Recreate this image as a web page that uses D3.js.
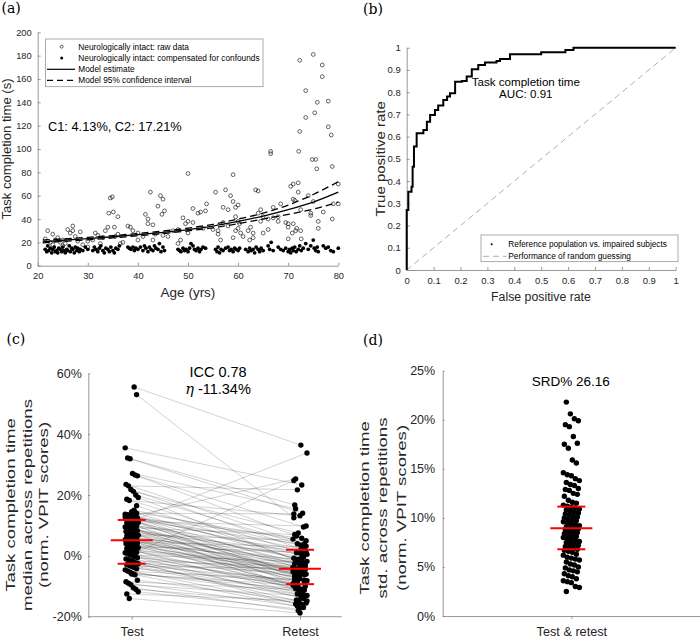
<!DOCTYPE html>
<html><head><meta charset="utf-8">
<script src="https://cdn.jsdelivr.net/npm/d3@7"></script>
<style>
html,body{margin:0;padding:0;background:#fff;}
text{font-family:"Liberation Sans",Arial,sans-serif;}
</style></head>
<body><svg id="c" width="700" height="638"></svg>
<script>
// ---------- Panel (a) data ----------
const ageTicks=[20,30,40,50,60,70,80];
const timeTicks=[0,20,40,60,80,100,120,140,160,180,200];
const rawData=[[21.5,23],[22,30],[22.5,20],[23,27],[23.5,22],[24,24],[24.5,20],[25,22],[25.5,19],[26,31],[26.5,28],[27,34],[27,30],[27.5,25],[28,21],[28.5,29],[29,18],[30,21],[30,16],[25,17],[23,18],
[31,22],[31.5,28],[32,26],[33,24],[33.5,30],[34,33],[34.2,45],[34.5,58],[34.9,59],[35.1,46],[35.3,33],[35.5,25],[36,42],[36,27],[37,20],[38,34],[38.5,33],[39,30],[40,28],[40,22],[32.5,19],[36.5,19],
[41,25],[41.5,44],[42,40],[42,36],[42.5,63],[43,35],[43,22],[44,51],[44.5,60],[44.8,44],[45,57],[45.3,47],[45,26],[46,25],[47,30],[48,31],[48.5,22],[49,41],[49.5,36],[50,38],[50,79],[50,28],[43.5,27],[48,19],
[51,49],[51,37],[52,45],[52.5,46],[53,32],[53.5,47],[53.7,53],[55.5,63],[56,30],[56.5,22],[57,50],[57.5,65],[58,48],[58.5,60],[59,78],[59,55],[59.5,42],[59.5,50],[60,52],[60,38],[60,32],[60.5,28],[61,25],[59.5,30],[58,34],[56,27],[57,37],[59,24],[60.3,36],[55,31],
[62,30],[62.3,22],[63,28],[63.5,65],[64,64],[64,45],[64.5,48],[64.5,38],[65,42],[65,28],[66.5,96],[66.5,98],[66,40],[67,50],[67,41],[68,42],[68,38],[68.5,53],[69.5,37],[70,23],[70,33],[70,36],[63,24],[62.5,33],[66,31],
[70.5,68],[71,70],[71,57],[71.3,56],[71.5,30],[71.7,32],[72,71],[72,63],[72.1,98],[72.3,115],[72.3,176],[72.5,48],[72.6,23],[73.5,150],[73.5,127],[74.5,45],[74.5,43],[74.8,91],[75,181],[75,55],[75.3,131],[75.5,91],[75.7,83],[75.8,140],[76,38],[76,32],[76.8,162],[76.8,172],[78,141],[78,119],[78.6,112],[78.8,85],[78.8,40],[79,53],[80,70],[80,53],[77,46],[74,60],[71,36],[72.5,30],[70.8,28]];
const compData=[[21.5,14],[21.8,12],[22,17],[22.2,13],[22.5,15],[22.8,11],[23,14],[23.3,16],[23.5,12],[23.8,13],[24,11],[24.2,15],[24.5,14],[24.8,12],[25,16],[25.2,13],[25.5,11],[25.8,14],[26,13],[26.3,17],[26.5,12],[26.8,15],[27,14],[27.3,11],[27.5,16],[27.8,13],[28,15],[28.3,12],[28.5,14],[29,13],[29.5,16],[30,14],
[31,13],[31.3,16],[31.6,14],[32,12],[32.3,15],[32.6,17],[33,13],[33.3,11],[33.6,15],[34,14],[34.3,12],[34.6,16],[35,13],[35.3,11],[35.6,15],[36,14],[36.3,17],[38,16],[38.3,15],[38.6,14],[39,16],[39.3,13],[39.6,15],[40,14],
[40.5,16],[41,13],[41.3,17],[41.6,15],[42,12],[42.3,16],[42.6,14],[43,13],[43.3,17],[43.6,15],[44,14],[44.3,19],[44.6,12],[45,16],[45.3,13],[48,14],[48.3,13],[48.6,12],[49,15],[49.3,13],[49.6,14],[50,12],[50.3,15],
[50.6,19],[51,17],[51.3,14],[51.6,13],[52,15],[52.3,12],[52.6,14],[53,16],[53.5,15],[55.5,14],[55.8,12],[56,16],[56.3,11],[56.6,14],[57,13],[57.5,15],[58,16],[58.3,13],[58.6,14],[59,12],[59.3,15],[59.6,14],[60,13],[60.3,15],
[61.5,14],[62,12],[62.3,15],[62.6,13],[63,14],[63.3,11],[63.6,16],[64,14],[64.3,12],[64.6,15],[65,13],[66,17],[66.3,14],[66.6,20],[67,13],[68,16],[68.5,14],[69,13],[69.5,15],
[70,12],[70.3,14],[70.5,11],[70.8,15],[71,13],[71.3,16],[71.6,12],[72,14],[72.3,17],[72.6,13],[73,15],[73.5,19],[74,14],[74.5,17],[75,22],[75.2,15],[75.5,13],[75.8,16],[76,12],[77,17],[77.5,15],[78,16],[78.5,13],[79,12],[80,15]];
const modelAge=[21,25,30,35,40,45,50,55,60,65,70,75,80];
const modelEst=[20.5,21.8,23.2,24.8,26.6,28.6,31,34,38,42.5,48,54.5,63];
const modelUpper=[22,23,24.3,25.8,27.6,29.7,32.2,35.5,40,45,52,61,72];
const modelLower=[19.5,20.8,22.2,23.8,25.6,27.5,29.8,32.5,36,40,44,48.5,54.5];
const legendA=["Neurologically intact: raw data","Neurologically intact: compensated for confounds","Model estimate","Model 95% confidence interval"];

// ---------- Panel (b) data ----------
const rateTicks=[0,0.1,0.2,0.3,0.4,0.5,0.6,0.7,0.8,0.9,1];
const rocFpr=[0,0,0.006,0.018,0.022,0.027,0.037,0.062,0.075,0.087,0.105,0.117,0.136,0.15,0.161,0.18,0.205,0.223,0.242,0.266,0.291,0.334,0.347,0.384,0.49,0.50,0.58,0.59,0.62,1.0];
const rocTpr=[0,0.27,0.352,0.375,0.465,0.555,0.615,0.63,0.667,0.697,0.72,0.74,0.765,0.78,0.795,0.847,0.85,0.87,0.903,0.922,0.933,0.94,0.949,0.97,0.97,0.98,0.98,0.99,1.0,1.0];
const legendB=["Reference population vs. impaired subjects","Performance of random guessing"];

// ---------- Panel (c) data ----------
const sessions=["Test","Retest"];
const pctTicksC=[-20,0,20,40,60];
const testVals=[55.5,53.0,35.5,32.2,31.9,27.1,26.6,26.3,23.5,23.0,21.8,21.2,20.0,19.2,18.6,18.2,14.5,14.2,14.0,13.7,13.5,13.2,13.0,12.7,12.5,12.2,12.0,11.8,11.5,11.3,11.0,10.8,10.5,10.2,10.0,9.8,9.5,9.3,9.0,8.8,8.5,8.3,8.0,7.8,7.5,7.2,7.0,6.8,6.5,6.3,6.0,5.8,5.5,5.3,5.1,5.0,4.8,4.5,4.2,4.0,3.8,3.5,3.2,3.0,2.7,2.4,2.1,1.8,1.5,1.2,1.0,0.7,0.4,0.0,-0.3,-0.6,-1.0,-1.3,-1.6,-2.0,-2.3,-2.6,-2.9,-3.2,-3.5,-3.8,-4.2,-4.6,-5.0,-5.4,-5.8,-6.2,-8.0,-8.5,-9.0,-9.5,-10.5,-11.0,-11.8,-12.5,-14.0,-6.0,15.0,16.5,12.8,9.6,2.0,-1.8];
const retestVals=[36.4,12.5,23.3,16.7,14.0,15.5,9.5,6.5,4.0,21.7,1.8,7.5,3.2,-2.0,0.5,13.2,5.5,-1.5,13.8,2.3,-6.0,0.0,25.3,-3.5,1.0,-8.0,4.0,-4.5,-2.2,9.8,-7.0,33.8,-1.0,-5.2,2.0,-9.0,-3.0,7.0,-4.0,-10.5,-0.5,-6.5,1.5,-8.5,-2.8,-4.8,5.0,-11.5,-1.8,-7.5,-3.8,0.8,-9.8,-5.5,-2.5,-12.0,-4.2,3.0,-8.0,-6.2,-1.2,-10.0,-4.4,1.2,-7.2,-13.0,-3.2,-9.2,-5.8,24.8,-11.0,-6.8,-2.0,-9.5,-14.0,-5.0,-8.8,-12.5,-3.5,-10.2,-6.0,-15.0,-8.2,-11.8,-4.0,-13.5,-9.0,-16.0,-7.8,-12.8,-10.8,-17.0,-14.5,-11.2,-16.5,-13.2,-18.0,-15.5,-17.5,-14.8,-18.8,-9.6,3.5,-0.8,5.8,-7.6,-4.6,-15.8];
const statsC={Test:[-2.6,5.1,11.8],Retest:[-9.3,-4.2,2.0]}; // q1, median, q3
const annotC=["ICC 0.78","\u03B7"," -11.34%"];

// ---------- Panel (d) data ----------
const pooled=["Test & retest"];
const pctTicksD=[0,5,10,15,20,25];
const stdVals=[21.8,20.6,20.1,19.9,19.5,19.3,18.3,17.6,17.5,17.1,15.9,15.6,14.6,14.4,14.3,14.0,13.8,13.6,13.4,13.3,13.0,12.9,12.8,12.5,12.4,12.2,11.8,11.6,11.5,11.3,11.2,11.1,11.0,10.9,10.8,10.7,10.6,10.5,10.4,10.3,10.2,10.1,10.0,9.9,9.8,9.7,9.6,9.5,9.4,9.3,9.2,9.1,9.0,8.9,8.9,8.8,8.7,8.6,8.5,8.4,8.3,8.2,8.1,8.0,7.9,7.8,7.7,7.6,7.5,7.4,7.3,7.2,7.1,7.0,6.9,6.8,6.7,6.6,6.5,6.3,6.2,6.0,5.9,5.8,5.7,5.5,5.3,5.2,5.0,4.9,4.7,4.6,4.5,4.3,4.1,4.0,3.8,3.6,3.5,3.4,3.0,2.9,2.5];
const statsD=[6.8,8.95,11.15];
const annotD="SRD% 26.16";

// ---------- drawing ----------
const svg=d3.select("#c");
const AX="#808080", TXT="#262626";
function style(g,fs){
  g.select(".domain").attr("stroke",AX).attr("stroke-width",0.8);
  g.selectAll(".tick line").attr("stroke",AX).attr("stroke-width",0.8);
  g.selectAll(".tick text").attr("fill",TXT).style("font-size",fs+"px").style("font-family","Liberation Sans, Arial, sans-serif");
}
function panelLabel(t,x,y){svg.append("text").attr("x",x).attr("y",y).text(t).style("font-family","DejaVu Serif, serif").style("font-size","14px").attr("fill","#000");}
function jit(i,amp){return (((i*37+11)%17)/16-0.5)*2*amp;}

// ===== Panel (a)
{
const x=d3.scaleLinear().domain([20,80]).range([37.7,338.3]);
const y=d3.scaleLinear().domain([0,200]).range([265.7,32.3]);
const g=svg.append("g");
g.append("g").attr("transform","translate(0,265.7)").call(d3.axisBottom(x).tickValues(ageTicks).tickSizeInner(-3).tickSizeOuter(0).tickPadding(7)).call(a=>style(a,9.3));
g.append("g").attr("transform","translate(37.7,0)").call(d3.axisLeft(y).tickValues(timeTicks).tickSizeInner(-3).tickSizeOuter(0).tickPadding(6)).call(a=>style(a,9.3));
g.selectAll("circle.raw").data(rawData).join("circle").attr("cx",d=>x(d[0])).attr("cy",d=>y(d[1])).attr("r",1.9).attr("fill","none").attr("stroke","#000").attr("stroke-width",0.6);
g.selectAll("circle.comp").data(compData).join("circle").attr("cx",d=>x(d[0])).attr("cy",d=>y(d[1])).attr("r",1.9).attr("fill","#000");
const line=arr=>d3.line().x((d,i)=>x(modelAge[i])).y(d=>y(d)).curve(d3.curveMonotoneX)(arr);
g.append("path").attr("d",line(modelEst)).attr("fill","none").attr("stroke","#000").attr("stroke-width",1.3);
[modelUpper,modelLower].forEach(a=>g.append("path").attr("d",line(a)).attr("fill","none").attr("stroke","#000").attr("stroke-width",1.3).attr("stroke-dasharray","7,4"));
// legend
g.append("rect").attr("x",45.5).attr("y",39).attr("width",217.5).attr("height",47.7).attr("fill","#fff").attr("stroke","#888").attr("stroke-width",0.7);
const rows=[46.7,58.1,69.3,80.3];
g.append("circle").attr("cx",61.7).attr("cy",rows[0]).attr("r",1.5).attr("fill","none").attr("stroke","#000").attr("stroke-width",0.6);
g.append("circle").attr("cx",61.7).attr("cy",rows[1]).attr("r",1.5).attr("fill","#000");
g.append("line").attr("x1",47).attr("x2",75).attr("y1",rows[2]).attr("y2",rows[2]).attr("stroke","#000").attr("stroke-width",1.2);
g.append("line").attr("x1",47).attr("x2",75).attr("y1",rows[3]).attr("y2",rows[3]).attr("stroke","#000").attr("stroke-width",1.2).attr("stroke-dasharray","6,4");
legendA.forEach((t,i)=>g.append("text").attr("x",78.3).attr("y",rows[i]+3).text(t).style("font-size","8.3px").attr("fill","#000"));
g.append("text").attr("x",48).attr("y",130.7).text("C1: 4.13%, C2: 17.21%").style("font-size","12.8px").attr("fill","#000");
g.append("text").attr("x",188).attr("y",297).attr("text-anchor","middle").text("Age (yrs)").style("font-size","13.5px").attr("fill",TXT);
g.append("text").attr("transform","translate(11,149) rotate(-90)").attr("text-anchor","middle").text("Task completion time (s)").style("font-size","13.1px").attr("fill",TXT);
panelLabel("(a)",1.5,12.5);
}

// ===== Panel (b)
{
const x=d3.scaleLinear().domain([0,1]).range([406.7,675.7]);
const y=d3.scaleLinear().domain([0,1]).range([270,47.7]);
const g=svg.append("g");
const fmt=d=>String(+d.toFixed(1));
g.append("g").attr("transform","translate(0,270)").call(d3.axisBottom(x).tickValues(rateTicks).tickFormat(fmt).tickSizeInner(-3).tickSizeOuter(0).tickPadding(7)).call(a=>style(a,9.5));
g.append("g").attr("transform","translate(406.7,0)").call(d3.axisLeft(y).tickValues(rateTicks).tickFormat(fmt).tickSizeInner(-3).tickSizeOuter(0).tickPadding(6)).call(a=>style(a,9.5));
g.append("line").attr("x1",x(0)).attr("y1",y(0)).attr("x2",x(1)).attr("y2",y(1)).attr("stroke","#999").attr("stroke-width",0.8).attr("stroke-dasharray","6,4");
const roc=d3.line().x((d,i)=>x(rocFpr[i])).y(d=>y(d)).curve(d3.curveStepAfter);
g.append("path").attr("d",roc(rocTpr)).attr("fill","none").attr("stroke","#000").attr("stroke-width",2);
g.append("text").attr("x",525.8).attr("y",86).attr("text-anchor","middle").text("Task completion time").style("font-size","11.6px").attr("fill","#000");
g.append("text").attr("x",525.8).attr("y",97.7).attr("text-anchor","middle").text("AUC: 0.91").style("font-size","11.6px").attr("fill","#000");
g.append("rect").attr("x",481).attr("y",235).attr("width",197).attr("height",26.7).attr("fill","#fff").attr("stroke","#888").attr("stroke-width",0.7);
g.append("circle").attr("cx",491.7).attr("cy",244.3).attr("r",1).attr("fill","#000");
g.append("line").attr("x1",483).attr("x2",506.5).attr("y1",256.3).attr("y2",256.3).attr("stroke","#999").attr("stroke-width",0.8).attr("stroke-dasharray","6,4");
legendB.forEach((t,i)=>g.append("text").attr("x",508.3).attr("y",[247.3,259.3][i]).text(t).style("font-size","8.3px").attr("fill","#000"));
g.append("text").attr("x",541).attr("y",301).attr("text-anchor","middle").text("False positive rate").style("font-size","12.3px").attr("fill",TXT);
g.append("text").attr("transform","translate(384.5,158.9) rotate(-90) scale(1.22,1)").attr("text-anchor","middle").text("True positive rate").style("font-size","12.3px").attr("fill",TXT);
panelLabel("(b)",363,14);
}

// ===== Panel (c)
{
const x=d3.scalePoint().domain(sessions).range([131.7,300]);
const y=d3.scaleLinear().domain([-20,60]).range([616.7,373.3]);
const g=svg.append("g");
g.append("g").attr("transform","translate(88.3,0)").call(d3.axisLeft(y).tickValues(pctTicksC).tickFormat(d=>d+"%").tickSizeInner(-2).tickSizeOuter(0).tickPadding(6.5)).call(a=>style(a,12.5));
const xa=g.append("g").attr("transform","translate(0,616.7)").call(d3.axisBottom(x).tickSizeInner(3).tickSizeOuter(0).tickPadding(7.5)).call(a=>style(a,12.7));
xa.select(".domain").attr("d","M88.3,0H341.7");
const pairs=testVals.map((t,i)=>({t,r:retestVals[i],jt:jit(i,6.5),jr:jit(i*3+5,7)}));
g.selectAll("line.pair").data(pairs).join("line").attr("x1",d=>x("Test")+d.jt).attr("y1",d=>y(d.t)).attr("x2",d=>x("Retest")+d.jr).attr("y2",d=>y(d.r)).attr("stroke","#000").attr("stroke-opacity",0.3).attr("stroke-width",0.6);
g.selectAll("circle.t").data(pairs).join("circle").attr("cx",d=>x("Test")+d.jt).attr("cy",d=>y(d.t)).attr("r",2.7).attr("fill","#000");
g.selectAll("circle.r").data(pairs).join("circle").attr("cx",d=>x("Retest")+d.jr).attr("cy",d=>y(d.r)).attr("r",2.7).attr("fill","#000");
sessions.forEach(s=>{
  statsC[s].forEach((v,k)=>{const hw=k===1?21:14;
    g.append("line").attr("x1",x(s)-hw).attr("x2",x(s)+hw).attr("y1",y(v)).attr("y2",y(v)).attr("stroke","#ff0000").attr("stroke-width",2);});
});
g.append("text").attr("x",218).attr("y",376.7).attr("text-anchor","middle").text(annotC[0]).style("font-size","14.5px").attr("fill","#000");
const eta=g.append("text").attr("x",218).attr("y",394).attr("text-anchor","middle").style("font-size","14.5px").attr("fill","#000");
eta.append("tspan").text(annotC[1]).style("font-style","italic").style("font-family","DejaVu Serif, serif");
eta.append("tspan").text(annotC[2]);
const labC=["Task completion time","median across repetitions","(norm. VPIT scores)"];
labC.forEach((t,i)=>g.append("text").attr("transform",`translate(${15+i*16.5},505) rotate(-90) scale(1.38,1)`).attr("text-anchor","middle").text(t).style("font-size","13.5px").attr("fill",TXT));
panelLabel("(c)",6.5,344);
}

// ===== Panel (d)
{
const x=d3.scalePoint().domain(pooled).range([442.7,700]).padding(0.5);
const y=d3.scaleLinear().domain([0,25]).range([616,370.7]);
const g=svg.append("g");
g.append("g").attr("transform","translate(442.7,0)").call(d3.axisLeft(y).tickValues(pctTicksD).tickFormat(d=>d+"%").tickSizeInner(-2).tickSizeOuter(0).tickPadding(7.5)).call(a=>style(a,12.5));
g.append("g").attr("transform","translate(0,616)").call(d3.axisBottom(x).tickSizeInner(3).tickSizeOuter(0).tickPadding(8)).call(a=>style(a,12.7));
const cx=x(pooled[0]);
g.selectAll("circle.s").data(stdVals).join("circle").attr("cx",(d,i)=>cx+jit(i*7+3,8)).attr("cy",d=>y(d)).attr("r",2.7).attr("fill","#000");
statsD.forEach((v,k)=>{const hw=k===1?21:14;
  g.append("line").attr("x1",cx-hw).attr("x2",cx+hw).attr("y1",y(v)).attr("y2",y(v)).attr("stroke","#ff0000").attr("stroke-width",2);});
g.append("text").attr("x",570.7).attr("y",385.7).attr("text-anchor","middle").text(annotD).style("font-size","13.5px").attr("fill","#000");
const labD=["Task completion time","std. across repetitions","(norm. VPIT scores)"];
labD.forEach((t,i)=>g.append("text").attr("transform",`translate(${368.5+i*18.5},508) rotate(-90) scale(1.38,1)`).attr("text-anchor","middle").text(t).style("font-size","13.5px").attr("fill",TXT));
panelLabel("(d)",363,345);
}
</script></body></html>
